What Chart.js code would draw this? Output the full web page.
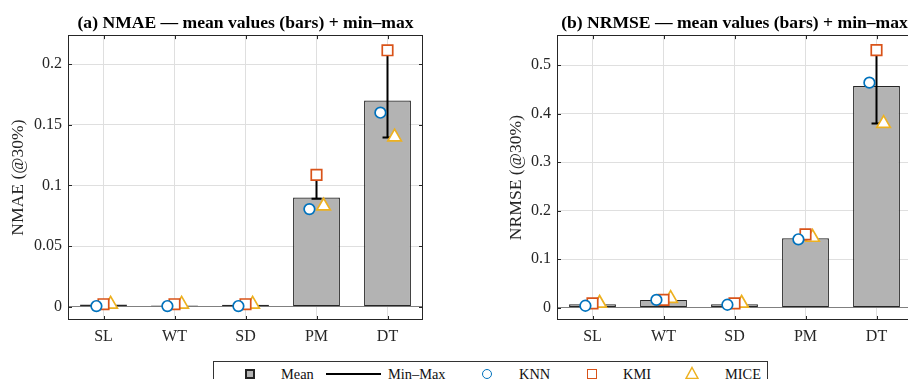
<!DOCTYPE html>
<html>
<head>
<meta charset="utf-8">
<script src="https://cdn.jsdelivr.net/npm/chart.js@4.4.1/dist/chart.umd.min.js"></script>
<style>
  html, body { margin: 0; padding: 0; background: #fff; overflow: hidden; }
  body { width: 908px; height: 379px; position: relative; font-family: 'Liberation Serif', 'Times New Roman', serif; }
  .panel { position: absolute; top: 0; height: 350px; }
  #panelA { left: 0; width: 450px; }
  #panelB { left: 454px; width: 470px; }
  #legend { position: absolute; left: 213px; top: 361px; width: 553px; height: 40px; border: 1px solid #333; background: #fff; }
  #legend .lbl { position: absolute; top: 3px; font-size: 14.4px; line-height: 18px; color: #111; white-space: nowrap; }
  #legend .ico { position: absolute; }
</style>
</head>
<body>
<div class="panel" id="panelA"><canvas id="nmaeChart" width="450" height="350"></canvas></div>
<div class="panel" id="panelB"><canvas id="nrmseChart" width="470" height="350"></canvas></div>

<div id="legend">
  <span class="ico" style="left:31px; top:7px; width:6px; height:6px; border:2px solid #222; background:#b3b3b3;"></span>
  <span class="lbl" style="left:67px;">Mean</span>
  <span class="ico" style="left:112px; top:11px; width:55px; height:2px; background:#000;"></span>
  <span class="lbl" style="left:174px;">Min–Max</span>
  <span class="ico" style="left:268px; top:7px; width:8px; height:8px; border:1.5px solid #0072BD; border-radius:50%;"></span>
  <span class="lbl" style="left:305px;">KNN</span>
  <span class="ico" style="left:373px; top:7px; width:8px; height:8px; border:1.5px solid #D95319;"></span>
  <span class="lbl" style="left:409px;">KMI</span>
  <svg class="ico" style="left:471px; top:4px;" width="14" height="14"><polygon points="7,1.5 13,12.5 1,12.5" fill="#fff" stroke="#EDB120" stroke-width="1.5"/></svg>
  <span class="lbl" style="left:511px;">MICE</span>
</div>

<script>
const categories = ['SL', 'WT', 'SD', 'PM', 'DT'];

// (a) NMAE
const nmaeMean = [0.0017, 0.0010, 0.0015, 0.090, 0.170];
const nmaeMin = [0.0005, 0.0005, 0.0005, 0.089, 0.1395];
const nmaeMax = [0.002, 0.002, 0.002, 0.1087, 0.2115];
const nmaeKnn = [0.0005, 0.0005, 0.0005, 0.0805, 0.160];
const nmaeKmi = [0.002, 0.002, 0.002, 0.1087, 0.2115];
const nmaeMice = [0.002, 0.002, 0.002, 0.083, 0.140];
const nmaeTicks = [0, 0.05, 0.1, 0.15, 0.2];

// (b) NRMSE
const nrmseMean = [0.007, 0.016, 0.007, 0.143, 0.457];
const nrmseMin = [0.004, 0.016, 0.006, 0.141, 0.380];
const nrmseMax = [0.009, 0.019, 0.009, 0.151, 0.531];
const nrmseKnn = [0.004, 0.016, 0.006, 0.141, 0.464];
const nrmseKmi = [0.009, 0.016, 0.009, 0.151, 0.531];
const nrmseMice = [0.009, 0.019, 0.009, 0.145, 0.380];
const nrmseTicks = [0, 0.1, 0.2, 0.3, 0.4, 0.5];

const FONT = "'Liberation Serif', 'Times New Roman', serif";
const AXIS_COLOR = '#262626';
const CAP = 0.07;      // half width of the min-max caps, in category units
const JITTER = 0.1;    // horizontal spread of the method markers

// inward tick marks and the closed box around the plot area
const axesBox = {
  id: 'axesBox',
  afterDraw(chart) {
    const { ctx, chartArea: a, scales } = chart;
    ctx.save();
    ctx.strokeStyle = AXIS_COLOR;
    ctx.lineWidth = 1;
    ctx.strokeRect(Math.round(a.left) + 0.5, Math.round(a.top) + 0.5,
      Math.round(a.width) - 1, Math.round(a.height) - 1);
    ctx.beginPath();
    scales.y.ticks.forEach(t => {
      const y = Math.round(scales.y.getPixelForValue(t.value)) + 0.5;
      ctx.moveTo(a.left, y); ctx.lineTo(a.left + 4, y);
      ctx.moveTo(a.right, y); ctx.lineTo(a.right - 4, y);
    });
    scales.x.ticks.forEach(t => {
      const x = Math.round(scales.x.getPixelForValue(t.value)) + 0.5;
      ctx.moveTo(x, a.bottom); ctx.lineTo(x, a.bottom - 4);
      ctx.moveTo(x, a.top); ctx.lineTo(x, a.top + 4);
    });
    ctx.stroke();
    ctx.restore();
  }
};

function points(values, dx) {
  return values.map((v, i) => ({ x: i + 1 + dx, y: v }));
}

// vertical min-max segments with short caps, broken by null points
function rangePoints(mins, maxs) {
  const pts = [];
  mins.forEach((lo, i) => {
    const x = i + 1, hi = maxs[i];
    pts.push({ x, y: lo }, { x, y: hi }, { x, y: null });
    pts.push({ x: x - CAP, y: lo }, { x: x + CAP, y: lo }, { x, y: null });
    pts.push({ x: x - CAP, y: hi }, { x: x + CAP, y: hi }, { x, y: null });
  });
  return pts;
}

function marker(label, values, dx, style, radius, color) {
  return {
    type: 'line', label, showLine: false, order: 0,
    data: points(values, dx),
    pointStyle: style, pointRadius: radius, pointBorderWidth: 1.7,
    pointBorderColor: color, pointBackgroundColor: '#fff'
  };
}

function createChart(id, cfg) {
  const ctx = document.getElementById(id).getContext('2d');
  return new Chart(ctx, {
    type: 'bar',
    data: {
      datasets: [
        marker('KNN', cfg.knn, -JITTER, 'circle', 5.3, '#0072BD'),
        marker('KMI', cfg.kmi, 0, 'rect', 7.4, '#D95319'),
        marker('MICE', cfg.mice, JITTER, 'triangle', 7.8, '#EDB120'),
        {
          type: 'line', label: 'Min–Max', order: 1,
          data: rangePoints(cfg.min, cfg.max),
          borderColor: '#000', borderWidth: 2, pointRadius: 0,
          spanGaps: false, fill: false, tension: 0
        },
        {
          type: 'bar', label: 'Mean', order: 2,
          data: points(cfg.mean, 0),
          backgroundColor: '#b3b3b3', borderColor: AXIS_COLOR, borderWidth: 1.2,
          borderSkipped: false, categoryPercentage: 1, barPercentage: 0.66
        }
      ]
    },
    options: {
      responsive: false,
      animation: false,
      layout: { padding: { left: cfg.padLeft, right: cfg.padRight, top: 0, bottom: 0 } },
      plugins: {
        legend: { display: false },
        tooltip: { enabled: false },
        title: {
          display: true, text: cfg.title, fullSize: false, color: '#000',
          font: { family: FONT, size: 17.6, weight: 'bold', lineHeight: 1.2 },
          padding: { top: 13, bottom: 1 }
        }
      },
      scales: {
        x: {
          type: 'linear', min: 0.5, max: 5.5, offset: false,
          afterBuildTicks: s => { s.ticks = categories.map((c, i) => ({ value: i + 1 })); },
          grid: { offset: false, color: '#dfdfdf', drawTicks: false },
          border: { display: false },
          ticks: {
            color: AXIS_COLOR, font: { family: FONT, size: 16 }, padding: 7,
            callback: v => categories[Math.round(v) - 1]
          },
          afterFit: s => { s.height = 30; }
        },
        y: {
          min: cfg.yMin, max: cfg.yMax,
          afterBuildTicks: s => { s.ticks = cfg.ticks.map(v => ({ value: v })); },
          grid: {
            color: c => (c.tick && c.tick.value === 0 ? '#808080' : '#dfdfdf'),
            drawTicks: false
          },
          border: { display: false },
          ticks: { color: AXIS_COLOR, font: { family: FONT, size: 16 }, padding: 6, callback: v => String(v) },
          title: { display: true, text: cfg.yLabel, color: AXIS_COLOR, font: { family: FONT, size: 17.6 }, padding: 0 },
          afterFit: s => { s.width = cfg.yWidth; }
        }
      }
    },
    plugins: [axesBox]
  });
}

createChart('nmaeChart', {
  title: '(a) NMAE — mean values (bars) + min–max',
  yLabel: 'NMAE (@30%)',
  mean: nmaeMean, min: nmaeMin, max: nmaeMax,
  knn: nmaeKnn, kmi: nmaeKmi, mice: nmaeMice,
  ticks: nmaeTicks, yMin: -0.011, yMax: 0.224,
  padLeft: 8, yWidth: 60, padRight: 27
});

createChart('nrmseChart', {
  title: '(b) NRMSE — mean values (bars) + min–max',
  yLabel: 'NRMSE (@30%)',
  mean: nrmseMean, min: nrmseMin, max: nrmseMax,
  knn: nrmseKnn, kmi: nrmseKmi, mice: nrmseMice,
  ticks: nrmseTicks, yMin: -0.0254, yMax: 0.562,
  padLeft: 52, yWidth: 51, padRight: 12
});
</script>
</body>
</html>
